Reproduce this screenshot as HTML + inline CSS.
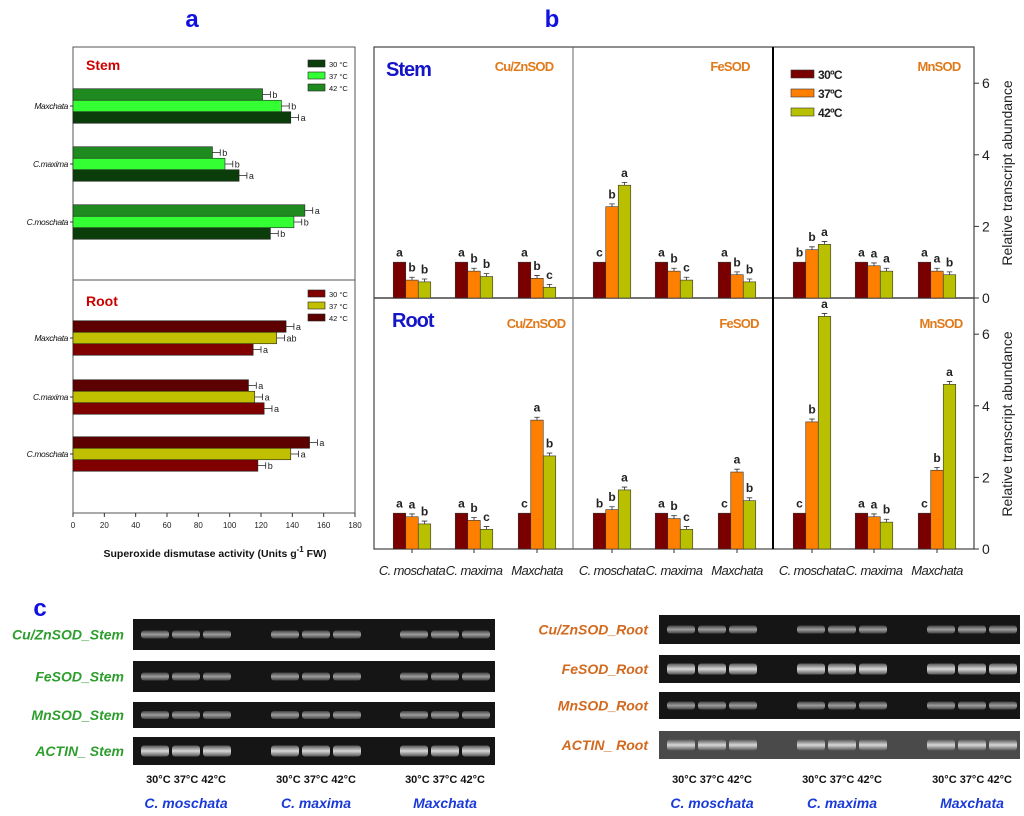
<!DOCTYPE html>
<html><head><meta charset="utf-8"><style>
body{margin:0;background:#fff}
svg{display:block;font-family:"Liberation Sans",sans-serif}
</style></head><body>
<svg id="fig" width="1024" height="816" viewBox="0 0 1024 816" xmlns="http://www.w3.org/2000/svg">
<defs>
<linearGradient id="band" x1="0" y1="0" x2="0" y2="1"><stop offset="0" stop-color="#555"/><stop offset="0.5" stop-color="#d8d8d8"/><stop offset="1" stop-color="#555"/></linearGradient>
</defs>
<text x="192" y="27" font-size="24" font-weight="bold" fill="#1010e0" text-anchor="middle">a</text>
<text x="552" y="27" font-size="24" font-weight="bold" fill="#1010e0" text-anchor="middle">b</text>
<text x="40" y="616" font-size="24" font-weight="bold" fill="#1010e0" text-anchor="middle">c</text>
<g id="pa"></g>
<g id="pb"></g>
<g id="pc"></g>
</svg>
<script>
// ---- Panel a data ----
const aSpecies = ["Maxchata","C.maxima","C.moschata"];
const aTemps = ["30 °C","37 °C","42 °C"];
const aStem30 = [139,106,126];
const aStem37 = [133,97,141];
const aStem42 = [121,89,148];
const aStemLet30 = ["a","a","b"];
const aStemLet37 = ["b","b","b"];
const aStemLet42 = ["b","b","a"];
const aRoot30 = [115,122,118];
const aRoot37 = [130,116,139];
const aRoot42 = [136,112,151];
const aRootLet30 = ["a","a","b"];
const aRootLet37 = ["ab","a","a"];
const aRootLet42 = ["a","a","a"];
const aTicks = [0,20,40,60,80,100,120,140,160,180];
// ---- Panel b data ----
const bSpecies = ["C. moschata","C. maxima","Maxchata"];
const bGenes = ["Cu/ZnSOD","FeSOD","MnSOD"];
const bTemps = ["30ºC","37ºC","42ºC"];
const bStem30 = [[1,1,1],[1,1,1],[1,1,1]];
const bStem37 = [[0.5,0.75,0.55],[2.55,0.75,0.65],[1.35,0.9,0.75]];
const bStem42 = [[0.45,0.6,0.3],[3.15,0.5,0.45],[1.5,0.75,0.65]];
const bStemLet = [[["a","b","b"],["a","b","b"],["a","b","c"]],[["c","b","a"],["a","b","c"],["a","b","b"]],[["b","b","a"],["a","a","a"],["a","a","b"]]];
const bRoot30 = [[1,1,1],[1,1,1],[1,1,1]];
const bRoot37 = [[0.9,0.8,3.6],[1.1,0.85,2.15],[3.55,0.9,2.2]];
const bRoot42 = [[0.7,0.55,2.6],[1.65,0.55,1.35],[6.5,0.75,4.6]];
const bRootLet = [[["a","a","b"],["a","b","c"],["c","a","b"]],[["b","b","a"],["a","b","c"],["c","a","b"]],[["c","b","a"],["a","a","b"],["c","b","a"]]];
const bTicks = [0,2,4,6];
// ---- Panel c data ----
const cStemGenes = ["Cu/ZnSOD_Stem","FeSOD_Stem","MnSOD_Stem","ACTIN_ Stem"];
const cRootGenes = ["Cu/ZnSOD_Root","FeSOD_Root","MnSOD_Root","ACTIN_ Root"];
const cSpecies = ["C.  moschata","C.  maxima","Maxchata"];

const NS="http://www.w3.org/2000/svg";
function mk(p,tag,at,txt){const e=document.createElementNS(NS,tag);for(const k in at)e.setAttribute(k,at[k]);if(txt!==undefined)e.textContent=txt;p.appendChild(e);return e;}

// ===== Panel a =====
const pa=document.getElementById('pa');
const ax=v=>73+v*282/180;
mk(pa,'rect',{x:73,y:47,width:282,height:466,fill:'none',stroke:'#555','stroke-width':1});
mk(pa,'line',{x1:73,y1:280,x2:355,y2:280,stroke:'#555'});
aTicks.forEach(t=>{
 const tk=mk(pa,'line',{x1:ax(t),y1:513,x2:ax(t),y2:517,stroke:'#333'});
 
 
 const l=mk(pa,'text',{x:ax(t),y:528,'font-size':8,'text-anchor':'middle',fill:'#222'},t);
 
 
});
const xt=mk(pa,'text',{x:215,y:557,'font-size':10.5,'font-weight':'bold','text-anchor':'middle',fill:'#111'});


xt.innerHTML='Superoxide dismutase activity (Units g<tspan dy="-5" font-size="8">-1</tspan><tspan dy="5"> FW)</tspan>';
function aPanel(title,centers,series,lets,colors,legY,titleY){
 const tt=mk(pa,'text',{x:86,y:titleY,'font-size':14,'font-weight':'bold',fill:'#cc0000'},title);
 
 
 aTemps.forEach((t,i)=>{
  const r=mk(pa,'rect',{x:308,y:legY+i*12-4,width:17,height:7,fill:colors[i],stroke:'#222','stroke-width':0.6});
  
  
  const l=mk(pa,'text',{x:329,y:legY+i*12+3,'font-size':7.5,fill:'#111'},t);
  
  
 });
 aSpecies.forEach((s,g)=>{
  const cy=centers[g];
  const lab=mk(pa,'text',{x:68,y:cy+3,'font-size':8.5,'font-style':'italic','text-anchor':'end',fill:'#111','letter-spacing':'-0.4'},s);
  
  
  mk(pa,'line',{x1:70,y1:cy,x2:73,y2:cy,stroke:'#333'});
  [2,1,0].forEach((ti,k)=>{
   const v=series[ti][g];const y=cy-17.25+k*11.5;
   const b=mk(pa,'rect',{x:73,y:y,width:ax(v)-73,height:11.5,fill:colors[ti],stroke:'#222','stroke-width':0.6});
   
   
   const e=ax(v+5);
   mk(pa,'path',{d:`M${ax(v)} ${y+5.75}H${e}M${e} ${y+2.5}V${y+9}`,stroke:'#222','stroke-width':0.8,fill:'none'});
   const lt=mk(pa,'text',{x:e+2,y:y+9,'font-size':9,fill:'#222'},lets[ti][g]);
   
   
  });
 });
}
aPanel('Stem',[106,164,222],[aStem30,aStem37,aStem42],[aStemLet30,aStemLet37,aStemLet42],['#0b3d0b','#33ff33','#1f8a1f'],64,70);
aPanel('Root',[338,397,454],[aRoot30,aRoot37,aRoot42],[aRootLet30,aRootLet37,aRootLet42],['#800000','#c0c000','#5c0000'],294,306);

// ===== Panel b =====
const pb=document.getElementById('pb');
const bColors=['#7a0000','#ff8000','#b8c000'];
const pxu=35.8;
mk(pb,'rect',{x:374,y:47,width:600,height:502,fill:'none',stroke:'#444','stroke-width':1.2});
mk(pb,'line',{x1:374,y1:298,x2:974,y2:298,stroke:'#444','stroke-width':1.5});
mk(pb,'line',{x1:573,y1:47,x2:573,y2:549,stroke:'#666'});
mk(pb,'line',{x1:773,y1:47,x2:773,y2:549,stroke:'#000','stroke-width':2});
[298,549].forEach(base=>{
 bTicks.forEach(t=>{
  const y=base-t*pxu;
  mk(pb,'line',{x1:974,y1:y,x2:979,y2:y,stroke:'#333'});
  const l=mk(pb,'text',{x:982,y:y+5,'font-size':14,fill:'#222'},t);
  
  
 });
 const yt=mk(pb,'text',{x:0,y:0,'font-size':14,fill:'#222','text-anchor':'middle',transform:`translate(1012,${base-125}) rotate(-90)`},'Relative transcript abundance');
 
 
});
const offs=[38,100,163];
function bRow(base,s30,s37,s42,lets,isRoot){
 bGenes.forEach((gname,p)=>{
  const x0=374+p*200;
  bSpecies.forEach((sp,g)=>{
   const cx=x0+offs[g];
   [s30,s37,s42].forEach((ser,ti)=>{
    const v=ser[p][g];const bx=cx-18.75+ti*12.5;const y=base-v*pxu;
    const r=mk(pb,'rect',{x:bx,y:y,width:12.5,height:v*pxu,fill:bColors[ti],stroke:'#333','stroke-width':0.6});
    
    
    if(ti>0){const ey=base-(v+0.08)*pxu;mk(pb,'path',{d:`M${bx+6.25} ${y}V${ey}M${bx+3.5} ${ey}H${bx+9}`,stroke:'#333','stroke-width':0.8});}
    const lt=mk(pb,'text',{x:bx+6.25,y:base-(v+(ti>0?0.18:0.1))*pxu-2,'font-size':12,'font-weight':'bold','text-anchor':'middle',fill:'#222'},lets[p][g][ti]);
    
    
   });
   if(isRoot){
    mk(pb,'line',{x1:cx,y1:549,x2:cx,y2:553,stroke:'#333'});
    const l=mk(pb,'text',{x:cx,y:575,'font-size':13,'font-style':'italic','text-anchor':'middle',fill:'#222','letter-spacing':'-0.6'},sp);
    
    
   }
  });
  const gx=[524,730,939][p]+(isRoot?[12,9,2][p]:0);
  const gt=mk(pb,'text',{x:gx,y:base-(isRoot?221:227),'font-size':13,'font-weight':'bold','text-anchor':'middle',fill:'#e07a1a','letter-spacing':'-0.8'},gname);
  
  
 });
 const tt=mk(pb,'text',{x:isRoot?392:386,y:base-222,'font-size':20,'font-weight':'bold',fill:'#1515c8','letter-spacing':'-1'},isRoot?'Root':'Stem');
 
 
}
bRow(298,bStem30,bStem37,bStem42,bStemLet,false);
bRow(549,bRoot30,bRoot37,bRoot42,bRootLet,true);
bTemps.forEach((t,i)=>{
 const r=mk(pb,'rect',{x:791,y:70+i*19,width:23,height:8,fill:bColors[i],stroke:'#333','stroke-width':0.6});
 
 
 const l=mk(pb,'text',{x:818,y:79+i*19,'font-size':12,'font-weight':'bold',fill:'#222','letter-spacing':'-0.6'},t);
 
 
});

// ===== Panel c =====
const pc=document.getElementById('pc');
function gels(genes,gx,gw,rows,labX,col,gcenters,actBg){
 genes.forEach((gn,i)=>{
  const [y0,y1]=rows[i];
  const bg=(actBg&&i===3)?'#4a4a4a':'#151515';
  const r=mk(pc,'rect',{x:gx,y:y0,width:gw,height:y1-y0,fill:bg});
  
  
  gcenters.forEach((c,g)=>{
   [-31,0,31].forEach(d=>{
    const big=(i===3||(actBg&&i===1));
    const h=big?11:8;
    const by=(y0+y1)/2-h/2;
    mk(pc,'rect',{x:c+d-14,y:by,width:28,height:h,rx:3,fill:'url(#band)',opacity:big?1:0.7});
   });
  });
  const l=mk(pc,'text',{x:labX,y:(y0+y1)/2+5,'font-size':14,'font-weight':'bold','font-style':'italic','text-anchor':'end',fill:col},gn);
  
  
 });
 gcenters.forEach((c,g)=>{
  const t=mk(pc,'text',{x:c,y:783,'font-size':11,'font-weight':'bold','text-anchor':'middle',fill:'#111'},'30°C 37°C 42°C');
  
  
  const s=mk(pc,'text',{x:c,y:808,'font-size':14,'font-weight':'bold','font-style':'italic','text-anchor':'middle',fill:'#1a3ad8'},cSpecies[g]);
  
  
 });
}
gels(cStemGenes,133,362,[[619,650],[661,692],[702,728],[737,765]],124,'#2e9e2e',[186,316,445],false);
gels(cRootGenes,659,361,[[615,644],[655,683],[692,719],[731,759]],648,'#d2691e',[712,842,972],true);
</script>
</body></html>
